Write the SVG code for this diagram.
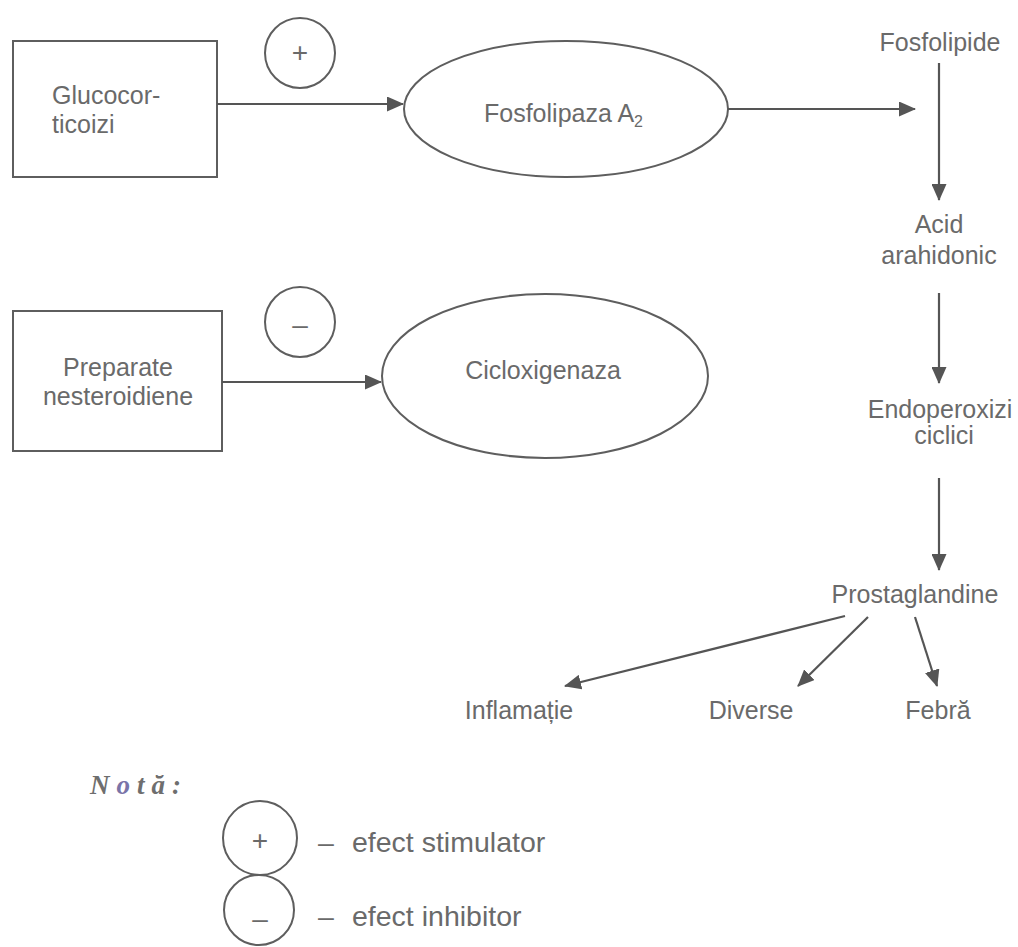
<svg xmlns="http://www.w3.org/2000/svg" width="1018" height="947" viewBox="0 0 1018 947">
<defs>
<marker id="ah" markerUnits="userSpaceOnUse" markerWidth="17" markerHeight="15" refX="16" refY="7.5" orient="auto">
<path d="M0,0 L17,7.5 L0,15 Z" fill="#555"/>
</marker>
<style>
.sh{fill:none;stroke:#5e5e5e;stroke-width:2}
.t{font-family:"Liberation Sans",Arial,sans-serif;font-size:25px;fill:#6a6a6a}
.c{text-anchor:middle}
.sg{font-family:"Liberation Sans",Arial,sans-serif;font-size:28px;fill:#6a6a6a;text-anchor:middle}
.lg{font-family:"Liberation Sans",Arial,sans-serif;font-size:28.5px;fill:#6a6a6a}
.cn{fill:none;stroke:#555;stroke-width:2.2;marker-end:url(#ah)}
</style>
</defs>
<rect width="1018" height="947" fill="#ffffff"/>

<g id="glucocorticoizi">
<rect class="sh" x="13" y="41" width="204" height="136"/>
<text class="t" x="52" y="104">Glucocor-</text>
<text class="t" x="52" y="133">ticoizi</text>
</g>

<g id="stimulator-sign">
<circle class="sh" cx="300" cy="53" r="35"/>
<text class="sg" x="300" y="62">+</text>
</g>

<g id="fosfolipaza">
<ellipse class="sh" cx="566" cy="109" rx="162" ry="68"/>
<text class="t" x="484" y="122">Fosfolipaza A<tspan font-size="16" dy="5">2</tspan></text>
</g>

<g id="fosfolipide">
<text class="t c" x="940" y="51">Fosfolipide</text>
</g>

<g id="acid-arahidonic">
<text class="t c" x="939" y="233">Acid</text>
<text class="t c" x="939" y="264">arahidonic</text>
</g>

<g id="preparate">
<rect class="sh" x="13" y="311" width="209" height="140"/>
<text class="t c" x="118" y="376">Preparate</text>
<text class="t c" x="118" y="405">nesteroidiene</text>
</g>

<g id="inhibitor-sign">
<circle class="sh" cx="300" cy="322" r="35"/>
<text class="sg" x="300" y="334">–</text>
</g>

<g id="cicloxigenaza">
<ellipse class="sh" cx="545" cy="376" rx="163" ry="82"/>
<text class="t c" x="543" y="379">Cicloxigenaza</text>
</g>

<g id="endoperoxizi">
<text class="t c" x="940" y="418">Endoperoxizi</text>
<text class="t c" x="944" y="444">ciclici</text>
</g>

<g id="prostaglandine">
<text class="t c" x="915" y="603">Prostaglandine</text>
</g>

<g id="inflamatie">
<text class="t c" x="519" y="719">Inflamație</text>
</g>
<g id="diverse">
<text class="t c" x="751" y="719">Diverse</text>
</g>
<g id="febra">
<text class="t c" x="938" y="719">Febră</text>
</g>

<g id="connectors">
<line class="cn" x1="217" y1="104" x2="403" y2="104"/>
<line class="cn" x1="728" y1="109" x2="915" y2="109"/>
<line class="cn" x1="939" y1="63" x2="939" y2="200"/>
<line class="cn" x1="939" y1="293" x2="939" y2="383"/>
<line class="cn" x1="939" y1="478" x2="939" y2="570"/>
<line class="cn" x1="222" y1="382" x2="381" y2="382"/>
<line class="cn" x1="845" y1="616" x2="565" y2="686"/>
<line class="cn" x1="868" y1="617" x2="798" y2="686"/>
<line class="cn" x1="915" y1="617" x2="937" y2="686"/>
</g>

<g id="legend">
<text x="90" y="794" font-family="'Liberation Serif','Times New Roman',serif" font-size="27" font-weight="bold" font-style="italic" letter-spacing="7" fill="#6e6e6e">N<tspan fill="#7a74a8">o</tspan>tă:</text>
<circle class="sh" cx="260" cy="838" r="37"/>
<text class="sg" x="260" y="850">+</text>
<circle class="sh" cx="259" cy="910" r="35"/>
<text class="sg" x="260" y="928">–</text>
<text class="lg" x="318" y="852">–</text>
<text class="lg" x="352" y="852">efect stimulator</text>
<text class="lg" x="318" y="926">–</text>
<text class="lg" x="352" y="926">efect inhibitor</text>
</g>
</svg>
